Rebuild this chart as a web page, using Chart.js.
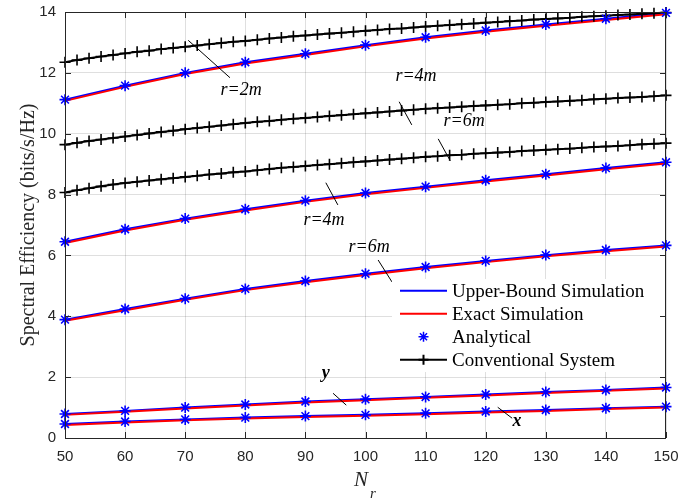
<!DOCTYPE html>
<html>
<head>
<meta charset="utf-8">
<script src="https://cdn.jsdelivr.net/npm/chart.js@4/dist/chart.umd.min.js"></script>
<style>
  html, body { margin: 0; padding: 0; background: #fff; }
  #wrap { width: 694px; height: 504px; }
</style>
</head>
<body>
<div id="wrap"><canvas id="c" width="694" height="504"></canvas></div>
<script>
// N_r values where the simulated / analytical curves are sampled
const nr = [50, 60, 70, 80, 90, 100, 110, 120, 130, 140, 150];

// upper-bound simulation (blue) and exact simulation (red)
const upper2 = [11.12, 11.58, 12.00, 12.35, 12.63, 12.91, 13.17, 13.39, 13.59, 13.78, 13.97];
const exact2 = [11.08, 11.54, 11.96, 12.31, 12.59, 12.87, 13.13, 13.35, 13.55, 13.74, 13.93];
const upper4 = [6.45, 6.86, 7.21, 7.52, 7.80, 8.05, 8.26, 8.47, 8.67, 8.87, 9.06];
const exact4 = [6.41, 6.82, 7.17, 7.48, 7.76, 8.01, 8.22, 8.43, 8.63, 8.83, 9.02];
const upper6 = [3.89, 4.24, 4.58, 4.90, 5.16, 5.40, 5.62, 5.82, 6.01, 6.18, 6.33];
const exact6 = [3.85, 4.20, 4.54, 4.86, 5.12, 5.36, 5.58, 5.78, 5.97, 6.14, 6.29];
const upperY = [0.79, 0.89, 1.00, 1.10, 1.20, 1.27, 1.35, 1.43, 1.51, 1.58, 1.66];
const exactY = [0.76, 0.86, 0.97, 1.07, 1.17, 1.24, 1.32, 1.40, 1.48, 1.55, 1.63];
const upperX = [0.46, 0.54, 0.61, 0.67, 0.72, 0.76, 0.81, 0.87, 0.92, 0.98, 1.03];
const exactX = [0.43, 0.51, 0.58, 0.64, 0.69, 0.73, 0.78, 0.84, 0.89, 0.95, 1.00];

// analytical markers (sit on the upper-bound curves)
const analytical = [upper2, upper4, upper6, upperY, upperX];

// conventional system, marker every 2
const nrConv = [50, 52, 54, 56, 58, 60, 62, 64, 66, 68, 70, 72, 74, 76, 78, 80, 82, 84, 86, 88,
  90, 92, 94, 96, 98, 100, 102, 104, 106, 108, 110, 112, 114, 116, 118, 120, 122, 124, 126, 128,
  130, 132, 134, 136, 138, 140, 142, 144, 146, 148, 150];
const conv2 = [12.35, 12.42, 12.48, 12.54, 12.59, 12.64, 12.69, 12.73, 12.78, 12.82, 12.86, 12.90,
  12.94, 12.98, 13.02, 13.05, 13.09, 13.13, 13.16, 13.20, 13.23, 13.26, 13.29, 13.32, 13.35, 13.38,
  13.41, 13.44, 13.46, 13.49, 13.52, 13.55, 13.57, 13.60, 13.62, 13.65, 13.67, 13.70, 13.72, 13.75,
  13.77, 13.79, 13.81, 13.84, 13.86, 13.88, 13.90, 13.92, 13.94, 13.96, 13.98];
const conv4 = [9.64, 9.70, 9.76, 9.81, 9.86, 9.91, 9.96, 10.01, 10.06, 10.10, 10.15, 10.19, 10.23,
  10.27, 10.31, 10.35, 10.39, 10.42, 10.46, 10.49, 10.52, 10.55, 10.58, 10.61, 10.64, 10.67, 10.70,
  10.73, 10.76, 10.79, 10.82, 10.84, 10.86, 10.89, 10.91, 10.93, 10.95, 10.97, 11.00, 11.02, 11.04,
  11.06, 11.08, 11.10, 11.13, 11.15, 11.17, 11.19, 11.21, 11.23, 11.26];
const conv6 = [8.07, 8.14, 8.21, 8.27, 8.33, 8.38, 8.42, 8.46, 8.50, 8.54, 8.58, 8.62, 8.66, 8.69,
  8.73, 8.76, 8.80, 8.84, 8.88, 8.91, 8.94, 8.97, 9.00, 9.03, 9.06, 9.09, 9.12, 9.15, 9.18, 9.21,
  9.24, 9.26, 9.29, 9.31, 9.34, 9.36, 9.38, 9.40, 9.43, 9.45, 9.47, 9.49, 9.51, 9.54, 9.56, 9.58,
  9.60, 9.62, 9.65, 9.67, 9.69];

const legendLabels = ['Upper-Bound Simulation', 'Exact Simulation', 'Analytical', 'Conventional System'];

// curve labels with their leader lines, in data units
const notes = [
  { text: 'r=2m', at: [79.3, 11.44], from: [70.5, 13.07], to: [77.45, 11.84] },
  { text: 'r=4m', at: [108.4, 11.88], from: [105.6, 11.05], to: [107.7, 10.29] },
  { text: 'r=6m', at: [116.4, 10.40], from: [112.1, 9.83], to: [114.1, 9.11] },
  { text: 'r=4m', at: [93.1, 7.17], from: [93.4, 8.39], to: [95.4, 7.66] },
  { text: 'r=6m', at: [100.6, 6.28], from: [102.1, 5.85], to: [104.4, 5.13] },
  { text: 'y', at: [93.4, 2.13], from: [94.6, 1.47], to: [96.8, 1.08], bold: true },
  { text: 'x', at: [125.2, 0.55], from: [122.0, 1.01], to: [124.4, 0.65], bold: true }
];

const BLUE = '#0000ff';
const RED = '#ff0000';
const AXIS = '#262626';

function pts(xs, ys) {
  return xs.map((x, i) => ({ x: x, y: ys[i] }));
}

const datasets = [];
[upper2, upper4, upper6, upperY, upperX].forEach((ys, i) => {
  datasets.push({ label: i === 0 ? legendLabels[0] : '', data: pts(nr, ys), borderColor: BLUE,
    borderWidth: 2, pointRadius: 0, order: 4 });
});
[exact2, exact4, exact6, exactY, exactX].forEach((ys, i) => {
  datasets.push({ label: i === 0 ? legendLabels[1] : '', data: pts(nr, ys), borderColor: RED,
    borderWidth: 2, pointRadius: 0, order: 3 });
});
[conv2, conv4, conv6].forEach((ys, i) => {
  datasets.push({ label: i === 0 ? legendLabels[3] : '', data: pts(nrConv, ys), borderColor: '#000',
    borderWidth: 2, pointStyle: 'cross', pointRadius: 5.5, pointBorderWidth: 1.6,
    pointBorderColor: '#000', order: 2 });
});
analytical.forEach((ys, i) => {
  datasets.push({ label: i === 0 ? legendLabels[2] : '', data: pts(nr, ys), showLine: false,
    pointStyle: 'star', pointRadius: 5.5, pointBorderWidth: 1.6, pointBorderColor: BLUE,
    pointBackgroundColor: BLUE, order: 1 });
});

const overlay = {
  id: 'overlay',
  afterDatasetsDraw(chart) {
    const ctx = chart.ctx;
    const xs = chart.scales.x, ys = chart.scales.y;
    const area = chart.chartArea;
    ctx.save();

    // curve labels
    notes.forEach(n => {
      ctx.strokeStyle = '#000';
      ctx.lineWidth = 1;
      ctx.beginPath();
      ctx.moveTo(xs.getPixelForValue(n.from[0]), ys.getPixelForValue(n.from[1]));
      ctx.lineTo(xs.getPixelForValue(n.to[0]), ys.getPixelForValue(n.to[1]));
      ctx.stroke();
      ctx.fillStyle = '#000';
      ctx.font = (n.bold ? 'italic bold ' : 'italic ') + '18px "Liberation Serif"';
      ctx.textAlign = 'center';
      ctx.textBaseline = 'middle';
      ctx.fillText(n.text, xs.getPixelForValue(n.at[0]), ys.getPixelForValue(n.at[1]));
    });

    // legend
    const lx = 392, ly = 279, lw = 272, lh = 93;
    ctx.fillStyle = '#fff';
    ctx.fillRect(lx, ly, lw, lh);
    const styles = [
      { line: BLUE }, { line: RED }, { star: BLUE }, { line: '#000', cross: true }
    ];
    legendLabels.forEach((label, i) => {
      const y = 290.7 + i * 23;
      const s = styles[i];
      if (s.line) {
        ctx.strokeStyle = s.line;
        ctx.lineWidth = 2;
        ctx.beginPath();
        ctx.moveTo(400, y);
        ctx.lineTo(447, y);
        ctx.stroke();
      }
      if (s.cross) {
        Chart.helpers.drawPoint(ctx, { pointStyle: 'cross', radius: 5, borderWidth: 1.5 }, 423.5, y);
      }
      if (s.star) {
        ctx.strokeStyle = s.star;
        ctx.lineWidth = 1.5;
        Chart.helpers.drawPoint(ctx, { pointStyle: 'star', radius: 5, borderWidth: 1.5 }, 423.5, y);
      }
      ctx.fillStyle = '#000';
      ctx.font = '19px "Liberation Serif"';
      ctx.textAlign = 'left';
      ctx.textBaseline = 'middle';
      ctx.fillText(label, 452, y + 1);
    });

    // box and inward ticks
    ctx.strokeStyle = AXIS;
    ctx.lineWidth = 1;
    ctx.strokeRect(area.left + 0.5, area.top + 0.5, area.right - area.left - 1, area.bottom - area.top);
    ctx.beginPath();
    xs.ticks.forEach(t => {
      const px = Math.round(xs.getPixelForValue(t.value)) + 0.5;
      ctx.moveTo(px, area.bottom); ctx.lineTo(px, area.bottom - 6);
      ctx.moveTo(px, area.top); ctx.lineTo(px, area.top + 6);
    });
    ys.ticks.forEach(t => {
      const py = Math.round(ys.getPixelForValue(t.value)) + 0.5;
      ctx.moveTo(area.left, py); ctx.lineTo(area.left + 6, py);
      ctx.moveTo(area.right, py); ctx.lineTo(area.right - 6, py);
    });
    ctx.stroke();

    // axis titles
    ctx.fillStyle = AXIS;
    ctx.textAlign = 'center';
    ctx.textBaseline = 'middle';
    ctx.font = 'italic 21px "Liberation Serif"';
    ctx.fillText('N', 361, 480);
    ctx.font = 'italic 15px "Liberation Serif"';
    ctx.fillText('r', 373, 494);
    ctx.save();
    ctx.translate(29, (area.top + area.bottom) / 2);
    ctx.rotate(-Math.PI / 2);
    ctx.font = '20px "Liberation Serif"';
    ctx.fillText('Spectral Efficiency (bits/s/Hz)', 0, 0);
    ctx.restore();

    ctx.restore();
  }
};

new Chart(document.getElementById('c').getContext('2d'), {
  type: 'line',
  data: { datasets: datasets },
  options: {
    responsive: false,
    animation: false,
    clip: false,
    layout: { padding: { top: 12, right: 28, left: 0, bottom: 0 } },
    elements: { line: { tension: 0 } },
    scales: {
      x: {
        type: 'linear', min: 50, max: 150,
        afterFit: s => { s.height = 66; s.paddingLeft = 0; s.paddingRight = 0; },
        ticks: { stepSize: 10, padding: 10, color: AXIS, font: { family: 'Liberation Sans', size: 15 } },
        grid: { color: 'rgba(38,38,38,0.15)', drawTicks: false },
        border: { display: false }
      },
      y: {
        min: 0, max: 14,
        afterFit: s => { s.width = 65; s.paddingTop = 0; s.paddingBottom = 0; },
        ticks: { stepSize: 2, padding: 9, color: AXIS, font: { family: 'Liberation Sans', size: 15 } },
        grid: { color: 'rgba(38,38,38,0.15)', drawTicks: false },
        border: { display: false }
      }
    },
    plugins: {
      legend: { display: false },
      tooltip: { enabled: false }
    }
  },
  plugins: [overlay]
});
</script>
</body>
</html>
